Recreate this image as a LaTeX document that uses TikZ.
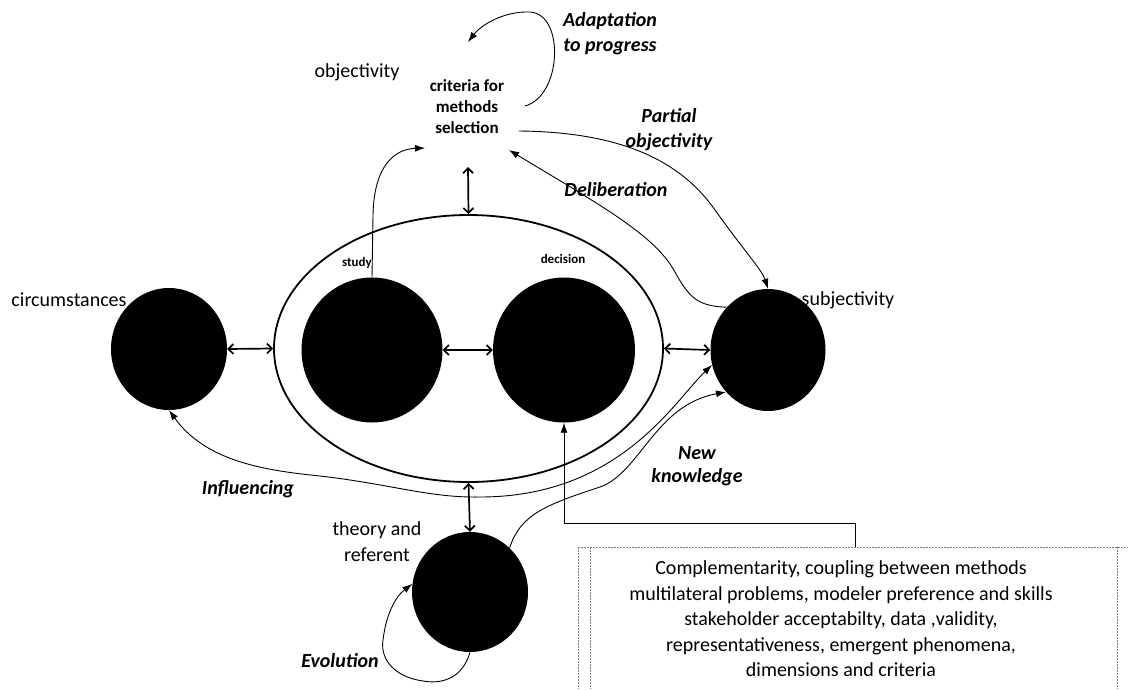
\documentclass[tikz,border=0pt]{standalone}
\usepackage{fontspec}
\setmainfont{Carlito}
\usetikzlibrary{arrows.meta,shapes.geometric}

\begin{document}
\begin{tikzpicture}[x=1pt,y=-1pt,
  disc/.style={ellipse, fill=black, inner sep=0pt},
  lbl/.style={font=\fontsize{20}{25}\selectfont, align=center, inner sep=0pt},
  emph/.style={font=\fontsize{20}{24}\selectfont\bfseries\itshape, align=center, inner sep=0pt},
  tag/.style={font=\fontsize{13}{15}\selectfont\bfseries, inner sep=0pt},
  flow/.style={line width=0.9pt, -{Latex[length=10pt,width=7pt]}},
  twoway/.style={line width=0.9pt, {Latex[length=10pt,width=7pt]}-{Latex[length=10pt,width=7pt]}},
  both/.style={line width=1.7pt, {Straight Barb[length=5pt,width=10pt]}-{Straight Barb[length=5pt,width=10pt]}},
  frame/.style={gray, line width=0.6pt, dash pattern=on 2pt off 1pt}]

\useasboundingbox (0,0) rectangle (1128,689);

% the framing ellipse around study and decision
\node[ellipse, draw, line width=1.8pt, minimum width=389pt, minimum height=267pt] (big) at (468.5,348.5) {};

% black discs
\node[disc, minimum width=116pt, minimum height=122pt] (circ)   at (169,349) {};
\node[disc, minimum width=141pt, minimum height=145pt] (study)  at (372,350) {};
\node[disc, minimum width=142pt, minimum height=145pt] (dec)    at (564,350) {};
\node[disc, minimum width=115pt, minimum height=122pt] (subj)   at (768,350) {};
\node[disc, minimum width=116pt, minimum height=120pt] (theory) at (470,592) {};

% labels
\node[lbl] (objl)  at (357,72)  {objectivity};
\node[font=\fontsize{17}{21}\selectfont\bfseries, align=center, inner sep=0pt] (crit) at (467,107)
  {criteria for\\methods\\selection};
\node[lbl] (circl) at (69,300)  {circumstances};
\node[lbl] (subjl) at (848,300) {subjectivity};
\node[tag] (studyl) at (357,263) {study};
\node[tag] (decl)   at (563,259) {decision};
\node[lbl, font=\fontsize{20}{26}\selectfont] (theol) at (377,542) {theory and\\referent};

\node[emph, font=\fontsize{20}{25}\selectfont\bfseries\itshape] (adapt) at (610,34) {Adaptation\\to progress};
\node[emph, font=\fontsize{20}{25}\selectfont\bfseries\itshape] (part) at (669,130) {Partial\\objectivity};
\node[emph] (delib) at (616,190) {Deliberation};
\node[emph] (infl)  at (248,489) {Influencing};
\node[emph, font=\fontsize{20}{23}\selectfont\bfseries\itshape] (newk) at (697,466) {New\\knowledge};
\node[emph] (evol)  at (340,661) {Evolution};

% factor box
\draw[frame] (578,547) -- (1128,547);
\draw[frame] (578,547) -- (578,689);
\draw[frame] (590,547) -- (590,689);
\draw[frame] (1117,547) -- (1117,689);
\node[lbl, font=\fontsize{20}{25.5}\selectfont] (factors) at (841,619)
  {Complementarity, coupling between methods\\
   multilateral problems, modeler preference and skills\\
   stakeholder acceptabilty, data ,validity,\\
   representativeness, emergent phenomena,\\
   dimensions and criteria};

% free ends of connectors
\coordinate (critlow)  at (468,167);
\coordinate (adstart)  at (525,106);
\coordinate (adend)    at (468,42);
\coordinate (pstart)   at (519,131);
\coordinate (delend)   at (509,150);
\coordinate (studyend) at (425,148);
\coordinate (boxtop)   at (855,547);
\coordinate (boxbend)  at (855,523);

% two-way links
\draw[both] (circ.east) -- (big.west);
\draw[both] (study.east) -- (dec.west);
\draw[both] (big.east) -- (subj.west);
\draw[both] (critlow) -- (big.north);
\draw[both] (big.south) -- (theory.north);

% adaptation loop on the criteria
\draw[flow] (adstart) .. controls (562,96) and (565,14) .. (530,12)
  .. controls (505,11) and (482,24) .. (adend);

% study feeds the criteria
\draw[flow] (study.north) -- (373,215) .. controls (374,165) and (395,149) .. (studyend);

% partial objectivity towards subjectivity
\draw[flow] (pstart) .. controls (620,132) and (680,160) .. (715,210)
  .. controls (745,252) and (762,270) .. (subj.north);

% deliberation back to the criteria
\draw[flow] (subj.134) .. controls (700,306) and (690,300) .. (675,272)
  .. controls (655,235) and (600,205) .. (delend);

% influencing: circumstances and subjectivity
\draw[twoway] (circ.south) .. controls (205,460) and (260,470) .. (320,476)
  .. controls (390,484) and (430,498) .. (480,497)
  .. controls (620,497) and (675,400) .. (subj.195);

% new knowledge from theory
\draw[flow] (theory.48) .. controls (520,515) and (545,505) .. (600,487)
  .. controls (640,473) and (655,405) .. (subj.225);

% evolution of the theory
\draw[flow] (theory.south) .. controls (462,680) and (440,684) .. (423,681)
  .. controls (395,677) and (380,660) .. (383,640)
  .. controls (386,615) and (395,597) .. (theory.172);

% factors bear on the decision
\draw[flow] (boxtop) -- (boxbend) -| (dec.south);

\end{tikzpicture}
\end{document}
